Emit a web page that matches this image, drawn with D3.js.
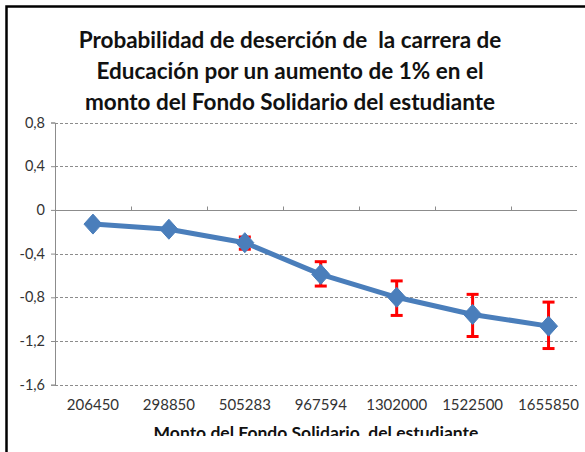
<!DOCTYPE html>
<html>
<head>
<meta charset="utf-8">
<script src="https://cdn.jsdelivr.net/npm/d3@7"></script>
<style>
  body { margin: 0; background: #fff; }
  svg { display: block; }
</style>
</head>
<body>
<div id="chart"></div>
<script>
// Chart data
const categories = ["206450", "298850", "505283", "967594", "1302000", "1522500", "1655850"];
const values = [-0.13, -0.177, -0.30, -0.59, -0.80, -0.957, -1.064];
const errUpper = [null, null, -0.248, -0.474, -0.65, -0.773, -0.844];
const errLower = [null, null, -0.36, -0.697, -0.966, -1.159, -1.269];
const yTicks = [0.8, 0.4, 0, -0.4, -0.8, -1.2, -1.6];
const titleLines = [
  "Probabilidad de deserción de  la carrera de",
  "Educación por un aumento de 1% en el",
  "monto del Fondo Solidario del estudiante"
];
const xTitle = "Monto del Fondo Solidario  del estudiante";

document.addEventListener("DOMContentLoaded", function () {
  const width = 585;
  const height = 452;
  const plot = { left: 55, right: 586.5, top: 122.5, bottom: 384.7, gridEnd: 577 };
  const font = "Lato, 'Open Sans', sans-serif";

  const svg = d3
    .select("#chart")
    .append("svg")
    .attr("width", width)
    .attr("height", height);

  // Scales
  const x = d3
    .scaleBand()
    .domain(categories)
    .range([plot.left, plot.right]);

  const y = d3
    .scaleLinear()
    .domain([-1.6, 0.8])
    .range([plot.bottom, plot.top]);

  // Dashed gridlines
  svg
    .append("g")
    .selectAll("line")
    .data(yTicks.filter(d => d !== 0))
    .enter()
    .append("line")
    .attr("x1", plot.left)
    .attr("x2", plot.gridEnd)
    .attr("y1", d => Math.round(y(d)) + 0.5)
    .attr("y2", d => Math.round(y(d)) + 0.5)
    .attr("stroke", "#8c8c8c")
    .attr("stroke-width", 1)
    .attr("stroke-dasharray", "3,2");

  // Y-axis
  const yAxis = svg
    .append("g")
    .attr("transform", `translate(${plot.left},0)`)
    .call(
      d3.axisLeft(y)
        .tickValues(yTicks)
        .tickSize(4)
        .tickPadding(6)
        .tickFormat(d => d === 0 ? "0" : d3.format(".1f")(d).replace(".", ",").replace("−", "-"))
    );
  yAxis.select(".domain").attr("stroke", "#8c8c8c");
  yAxis.selectAll(".tick line").attr("stroke", "#8c8c8c");
  yAxis
    .selectAll("text")
    .attr("font-family", font)
    .attr("font-size", 14.5)
    .attr("fill", "#333");

  // Category axis at zero, ticks pointing up
  const xAxis = svg
    .append("g")
    .attr("transform", `translate(0,${Math.round(y(0)) + 0.5})`)
    .call(d3.axisTop(x).tickSize(0).tickFormat(""));
  xAxis.select(".domain").attr("stroke", "#8c8c8c").attr("d", `M${plot.left},0H${plot.gridEnd}`);
  xAxis
    .selectAll(".bound")
    .data(categories.slice(1))
    .enter()
    .append("line")
    .attr("x1", d => Math.round(x(d)) + 0.5)
    .attr("x2", d => Math.round(x(d)) + 0.5)
    .attr("y1", 0)
    .attr("y2", -4)
    .attr("stroke", "#8c8c8c");

  // Category labels (low position)
  svg
    .append("g")
    .selectAll("text")
    .data(categories)
    .enter()
    .append("text")
    .attr("x", d => x(d) + x.bandwidth() / 2)
    .attr("y", 410)
    .attr("text-anchor", "middle")
    .attr("font-family", font)
    .attr("font-size", 15)
    .attr("fill", "#333")
    .text(d => d);

  // Line
  const line = d3
    .line()
    .x((d, i) => x(categories[i]) + x.bandwidth() / 2)
    .y(d => y(d));

  svg
    .append("path")
    .datum(values)
    .attr("d", line)
    .attr("fill", "none")
    .attr("stroke", "#4a7ebb")
    .attr("stroke-width", 5)
    .attr("stroke-linejoin", "round");

  // Error bars
  const errData = categories
    .map((c, i) => ({ c, hi: errUpper[i], lo: errLower[i] }))
    .filter(d => d.hi !== null);

  const eg = svg.append("g").attr("stroke", "#ff0000").attr("stroke-width", 3);
  errData.forEach(d => {
    const cx = x(d.c) + x.bandwidth() / 2;
    eg.append("line").attr("x1", cx).attr("x2", cx).attr("y1", y(d.hi)).attr("y2", y(d.lo));
    eg.append("line").attr("x1", cx - 6).attr("x2", cx + 6).attr("y1", y(d.hi)).attr("y2", y(d.hi));
    eg.append("line").attr("x1", cx - 6).attr("x2", cx + 6).attr("y1", y(d.lo)).attr("y2", y(d.lo));
  });

  // Diamond markers
  svg
    .append("g")
    .selectAll("path")
    .data(values)
    .enter()
    .append("path")
    .attr("transform", (d, i) => `translate(${x(categories[i]) + x.bandwidth() / 2},${y(d)})`)
    .attr("d", "M0,-10L9,0L0,10L-9,0Z")
    .attr("fill", "#4a7ebb")
    .attr("stroke", "#4a7ebb")
    .attr("stroke-width", 1);

  // Title
  svg
    .append("g")
    .selectAll("text")
    .data(titleLines)
    .enter()
    .append("text")
    .attr("x", 290)
    .attr("y", (d, i) => 48 + i * 31)
    .attr("text-anchor", "middle")
    .attr("font-family", font)
    .attr("font-weight", "bold")
    .attr("font-size", 22.5)
    .attr("fill", "#111")
    .style("white-space", "pre")
    .text(d => d);

  // X-axis title, clipped at the bottom like the source
  svg
    .append("clipPath")
    .attr("id", "cut")
    .append("rect")
    .attr("x", 0)
    .attr("y", 0)
    .attr("width", width)
    .attr("height", 436);

  svg
    .append("text")
    .attr("clip-path", "url(#cut)")
    .attr("x", 316)
    .attr("y", 439)
    .attr("text-anchor", "middle")
    .attr("font-family", font)
    .attr("font-weight", "bold")
    .attr("font-size", 17.5)
    .attr("fill", "#111")
    .style("white-space", "pre")
    .text(xTitle);

  // Frame (top and left only)
  svg
    .append("path")
    .attr("d", `M6.5,${height}V6.5H${width}`)
    .attr("fill", "none")
    .attr("stroke", "#000")
    .attr("stroke-width", 2.5);
});
</script>
</body>
</html>
